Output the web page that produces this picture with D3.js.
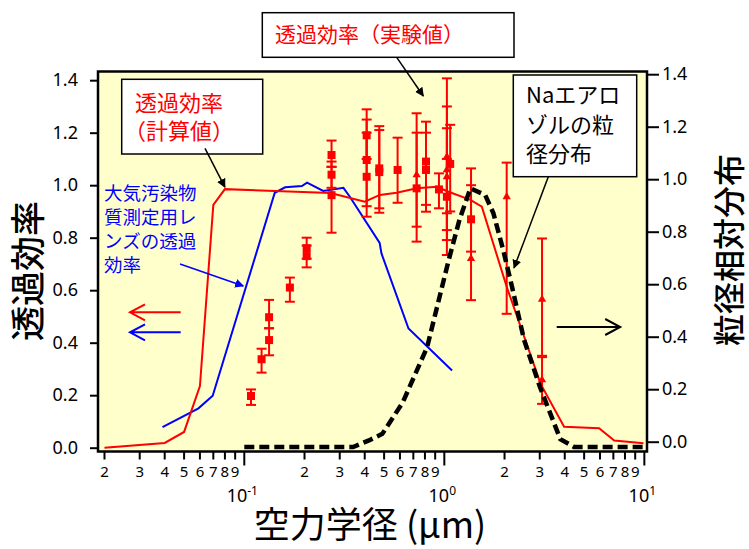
<!DOCTYPE html>
<html>
<head>
<meta charset="utf-8">
<script src="https://cdn.jsdelivr.net/npm/d3@7"></script>
<style>
  body { margin: 0; background: #fff; }
  svg text { font-family: "Noto Sans", "Noto Sans CJK JP", sans-serif; }
  .jp { font-family: "Noto Sans CJK JP", sans-serif; }
</style>
</head>
<body>
<div class="graph"></div>
<script>
// calculated transmission efficiency (left axis)
var calcX = [0.02, 0.04, 0.05, 0.06, 0.07, 0.08, 0.27, 0.40, 0.476, 0.578, 0.728, 0.915, 1.05, 1.35, 1.54, 2.05, 3.03, 3.97, 5.94, 7.07, 9.9];
var calcY = [0.0, 0.018, 0.06, 0.235, 0.925, 0.985, 0.97, 0.937, 0.963, 0.971, 0.988, 0.994, 0.975, 0.944, 0.918, 0.613, 0.243, 0.08, 0.074, 0.027, 0.017];

// lens transmission efficiency (left axis)
var lensX = [0.039, 0.059, 0.0695, 0.142, 0.16, 0.194, 0.206, 0.248, 0.313, 0.337, 0.475, 0.485, 0.662, 1.093];
var lensY = [0.078, 0.15, 0.198, 0.971, 0.992, 0.997, 1.01, 0.978, 0.99, 0.956, 0.78, 0.74, 0.454, 0.294];

// Na aerosol size distribution (right axis)
var naX = [0.1, 0.35, 0.42, 0.49, 0.62, 0.82, 1.05, 1.19, 1.35, 1.6, 1.76, 1.97, 2.18, 2.5, 3.0, 3.8, 4.45, 10];
var naY = [-0.02, -0.02, 0.005, 0.03, 0.15, 0.36, 0.69, 0.845, 0.965, 0.94, 0.87, 0.73, 0.59, 0.39, 0.21, 0.01, -0.02, -0.02];

// measured transmission efficiency: squares
var sqX  = [0.108, 0.122, 0.133, 0.133, 0.169, 0.205, 0.205, 0.273, 0.273, 0.273, 0.409, 0.409, 0.409, 0.473, 0.473, 0.584, 0.727, 0.81, 0.81, 0.94, 1.03, 1.07, 1.36];
var sqY  = [0.197, 0.337, 0.497, 0.41, 0.61, 0.76, 0.73, 1.115, 1.04, 0.962, 1.19, 1.096, 1.032, 1.064, 1.05, 1.058, 0.988, 1.09, 1.058, 0.984, 0.956, 1.081, 0.87];
var sqLo = [0.163, 0.286, 0.455, 0.352, 0.556, 0.72, 0.687, 1.07, 0.99, 0.819, 1.10, 0.92, 0.88, 0.895, 0.912, 0.933, 0.785, 0.925, 0.899, 0.912, 0.791, 0.90, 0.747];
var sqHi = [0.222, 0.377, 0.563, 0.455, 0.648, 0.80, 0.77, 1.17, 1.09, 1.07, 1.289, 1.25, 1.20, 1.225, 1.21, 1.181, 1.20, 1.242, 1.20, 1.045, 1.10, 1.23, 1.0];

// measured transmission efficiency: triangles
var trX  = [0.727, 1.03, 1.03, 1.03, 1.36, 2.05, 3.08, 3.08];
var trY  = [1.039, 1.108, 1.058, 1.032, 0.72, 0.956, 0.565, 0.258];
var trLo = [0.842, 0.829, 0.893, 0.734, 0.562, 0.51, 0.35, 0.167];
var trHi = [1.274, 1.407, 1.217, 1.30, 1.064, 1.086, 0.797, 0.345];

var yTicks = [0, 0.2, 0.4, 0.6, 0.8, 1.0, 1.2, 1.4];
var minorDigits = [2, 3, 4, 5, 6, 7, 8, 9];
var decades = [0.01, 0.1, 1];
var majorTicks = [0.1, 1, 10];
var majorExp = ["-1", "0", "1"];

function drawChart() {
    var W = 749, H = 549;
    var mLeft = 98, mRight = 647, mTop = 71.5, mBottom = 451.5;

    var svg = d3.select(".graph").append("svg")
        .attr("width", W)
        .attr("height", H);

    var x = d3.scaleLog().domain([0.01856, 10.31]).range([mLeft, mRight]);
    var yL = d3.scaleLinear().domain([-0.0145, 1.4331]).range([mBottom, mTop]);
    var yR = d3.scaleLinear().domain([-0.0373, 1.4103]).range([mBottom, mTop]);

    // plot background
    svg.append("rect")
        .attr("x", mLeft).attr("y", mTop)
        .attr("width", mRight - mLeft).attr("height", mBottom - mTop)
        .attr("fill", "#ffffcc");

    // arrow markers
    var defs = svg.append("defs");
    [["arrBlack", "#000"], ["arrBlue", "#0000ff"]].forEach(function (m) {
        defs.append("marker")
            .attr("id", m[0])
            .attr("viewBox", "0 0 10 10")
            .attr("refX", 9).attr("refY", 5)
            .attr("markerWidth", 9).attr("markerHeight", 9)
            .attr("markerUnits", "userSpaceOnUse")
            .attr("orient", "auto")
            .append("path")
            .attr("d", "M0,0 L10,5 L0,10 z")
            .attr("fill", m[1]);
    });

    // left axis
    var axL = svg.append("g")
        .attr("transform", `translate(${mLeft},0)`)
        .call(d3.axisLeft(yL).tickValues(yTicks).tickFormat(d3.format(".1f")).tickSize(8).tickPadding(12));
    axL.select(".domain").remove();
    axL.selectAll("line").attr("stroke", "#000").attr("stroke-width", 2);
    axL.selectAll("text").attr("font-size", 18).attr("fill", "#000");

    // right axis
    var axR = svg.append("g")
        .attr("transform", `translate(${mRight},0)`)
        .call(d3.axisRight(yR).tickValues(yTicks).tickFormat(d3.format(".1f")).tickSize(12).tickPadding(3));
    axR.select(".domain").remove();
    axR.selectAll("line").attr("stroke", "#000").attr("stroke-width", 2);
    axR.selectAll("text").attr("font-size", 18).attr("fill", "#000");

    // bottom axis with minor / major ticks
    var minorTicks = [];
    decades.forEach(function (d) {
        minorDigits.forEach(function (k) { minorTicks.push({ v: d * k, k: k }); });
    });
    var axB = svg.append("g");
    axB.selectAll(".minor").data(minorTicks).enter().append("line")
        .attr("x1", d => x(d.v)).attr("x2", d => x(d.v))
        .attr("y1", mBottom).attr("y2", mBottom + 8)
        .attr("stroke", "#000").attr("stroke-width", 2);
    axB.selectAll(".minorLab").data(minorTicks).enter().append("text")
        .attr("x", d => x(d.v)).attr("y", mBottom + 25)
        .attr("text-anchor", "middle")
        .attr("font-size", 15)
        .text(d => d.k);
    axB.selectAll(".major").data(majorTicks).enter().append("line")
        .attr("x1", d => x(d)).attr("x2", d => x(d))
        .attr("y1", mBottom).attr("y2", mBottom + 14)
        .attr("stroke", "#000").attr("stroke-width", 2);
    var majLab = axB.selectAll(".majorLab").data(majorTicks).enter().append("text")
        .attr("x", d => x(d) - 2).attr("y", mBottom + 50)
        .attr("text-anchor", "middle")
        .attr("font-size", 18);
    majLab.append("tspan").text("10");
    majLab.append("tspan").attr("font-size", 12).attr("dy", -7).text((d, i) => majorExp[i]);

    var lineL = d3.line().x(d => x(d[0])).y(d => yL(d[1]));
    var lineR = d3.line().x(d => x(d[0])).y(d => yR(d[1]));

    // lens line
    svg.append("path")
        .datum(lensX.map((v, i) => [v, lensY[i]]))
        .attr("fill", "none").attr("stroke", "#0000ff").attr("stroke-width", 2)
        .attr("d", lineL);

    // calculated line
    svg.append("path")
        .datum(calcX.map((v, i) => [v, calcY[i]]))
        .attr("fill", "none").attr("stroke", "#ff0000").attr("stroke-width", 2)
        .attr("d", lineL);

    // error bars and markers
    function errorBars(xs, ys, lo, hi, shape) {
        var data = xs.map((v, i) => ({ x: v, y: ys[i], lo: lo[i], hi: hi[i] }));
        var g = svg.append("g").attr("stroke", "#ff0000").attr("stroke-width", 2);
        g.selectAll(".bar").data(data).enter().append("line")
            .attr("x1", d => x(d.x)).attr("x2", d => x(d.x))
            .attr("y1", d => yL(d.lo)).attr("y2", d => yL(d.hi));
        g.selectAll(".capLo").data(data).enter().append("line")
            .attr("x1", d => x(d.x) - 5).attr("x2", d => x(d.x) + 5)
            .attr("y1", d => yL(d.lo)).attr("y2", d => yL(d.lo));
        g.selectAll(".capHi").data(data).enter().append("line")
            .attr("x1", d => x(d.x) - 5).attr("x2", d => x(d.x) + 5)
            .attr("y1", d => yL(d.hi)).attr("y2", d => yL(d.hi));
        var sym = shape === "square" ? d3.symbolSquare : d3.symbolTriangle;
        var size = shape === "square" ? 64 : 30;
        svg.append("g").selectAll("path").data(data).enter().append("path")
            .attr("transform", d => `translate(${x(d.x)},${yL(d.y)})`)
            .attr("d", d3.symbol().type(sym).size(size))
            .attr("fill", "#ff0000");
    }
    errorBars(trX, trY, trLo, trHi, "triangle");
    errorBars(sqX, sqY, sqLo, sqHi, "square");

    // Na distribution dashed line
    svg.append("path")
        .datum(naX.map((v, i) => [v, naY[i]]))
        .attr("fill", "none").attr("stroke", "#000").attr("stroke-width", 4.5)
        .attr("stroke-dasharray", "10,5")
        .attr("d", lineR);

    // frame
    svg.append("rect")
        .attr("x", mLeft).attr("y", mTop)
        .attr("width", mRight - mLeft).attr("height", mBottom - mTop)
        .attr("fill", "none").attr("stroke", "#000").attr("stroke-width", 2.5);

    // axis titles
    svg.append("text").attr("class", "jp")
        .attr("transform", "translate(41,271) rotate(-90)")
        .attr("text-anchor", "middle").attr("font-size", 35).attr("font-weight", 500)
        .text("透過効率");
    svg.append("text").attr("class", "jp")
        .attr("transform", "translate(741,250) rotate(-90)")
        .attr("text-anchor", "middle").attr("font-size", 32).attr("font-weight", 500)
        .text("粒径相対分布");
    svg.append("text").attr("class", "jp")
        .attr("x", 370).attr("y", 538)
        .attr("text-anchor", "middle").attr("font-size", 36)
        .text("空力学径 (μm)");

    // annotation: calculated
    svg.append("rect").attr("x", 121.7).attr("y", 79.3).attr("width", 141).attr("height", 74.7)
        .attr("fill", "#fff").attr("stroke", "#000").attr("stroke-width", 1.5);
    var t1 = svg.append("text").attr("class", "jp").attr("fill", "#ff0000").attr("font-size", 22);
    t1.append("tspan").attr("x", 135).attr("y", 111).text("透過効率");
    t1.append("tspan").attr("x", 124).attr("y", 139).text("（計算値）");
    svg.append("line").attr("x1", 205).attr("y1", 148.3).attr("x2", x(0.08)).attr("y2", yL(0.985) - 2)
        .attr("stroke", "#000").attr("stroke-width", 1.5).attr("marker-end", "url(#arrBlack)");

    // annotation: experimental
    svg.append("rect").attr("x", 262.3).attr("y", 12.7).attr("width", 251.7).attr("height", 44.6)
        .attr("fill", "#fff").attr("stroke", "#000").attr("stroke-width", 1.5);
    svg.append("text").attr("class", "jp").attr("fill", "#ff0000").attr("font-size", 21)
        .attr("x", 275).attr("y", 42).text("透過効率（実験値）");
    svg.append("line").attr("x1", 396.7).attr("y1", 57.3).attr("x2", 423.3).attr("y2", 96)
        .attr("stroke", "#000").attr("stroke-width", 1.5).attr("marker-end", "url(#arrBlack)");

    // annotation: Na aerosol
    svg.append("rect").attr("x", 513.3).attr("y", 75).attr("width", 123.4).attr("height", 101.7)
        .attr("fill", "#fff").attr("stroke", "#000").attr("stroke-width", 1.5);
    var t3 = svg.append("text").attr("class", "jp").attr("fill", "#000").attr("font-size", 22);
    t3.append("tspan").attr("x", 526).attr("y", 103).text("Naエアロ");
    t3.append("tspan").attr("x", 526).attr("y", 133).text("ゾルの粒");
    t3.append("tspan").attr("x", 526).attr("y", 162).text("径分布");
    svg.append("line").attr("x1", 548.3).attr("y1", 176.7).attr("x2", 514).attr("y2", 268)
        .attr("stroke", "#000").attr("stroke-width", 1.5).attr("marker-end", "url(#arrBlack)");

    // annotation: lens (blue)
    var t4 = svg.append("text").attr("class", "jp").attr("fill", "#0000ff").attr("font-size", 18.5);
    ["大気汚染物", "質測定用レ", "ンズの透過", "効率"].forEach(function (s, i) {
        t4.append("tspan").attr("x", 104).attr("y", 200 + i * 24).text(s);
    });
    svg.append("line").attr("x1", 180).attr("y1", 264).attr("x2", 243.3).attr("y2", 286)
        .attr("stroke", "#0000ff").attr("stroke-width", 1.5).attr("marker-end", "url(#arrBlue)");

    // side arrows (open heads)
    function openArrow(x1, x2, yy, color) {
        var dir = x2 > x1 ? -1 : 1;
        svg.append("path")
            .attr("d", `M${x1},${yy} L${x2},${yy} M${x2 + dir * 15},${yy - 8} L${x2},${yy} L${x2 + dir * 15},${yy + 8}`)
            .attr("fill", "none").attr("stroke", color).attr("stroke-width", 2);
    }
    openArrow(180.7, 130, 312.3, "#ff0000");
    openArrow(180.7, 130, 332.3, "#0000ff");
    openArrow(556.7, 620.2, 327, "#000");
}
drawChart();
</script>
</body>
</html>
